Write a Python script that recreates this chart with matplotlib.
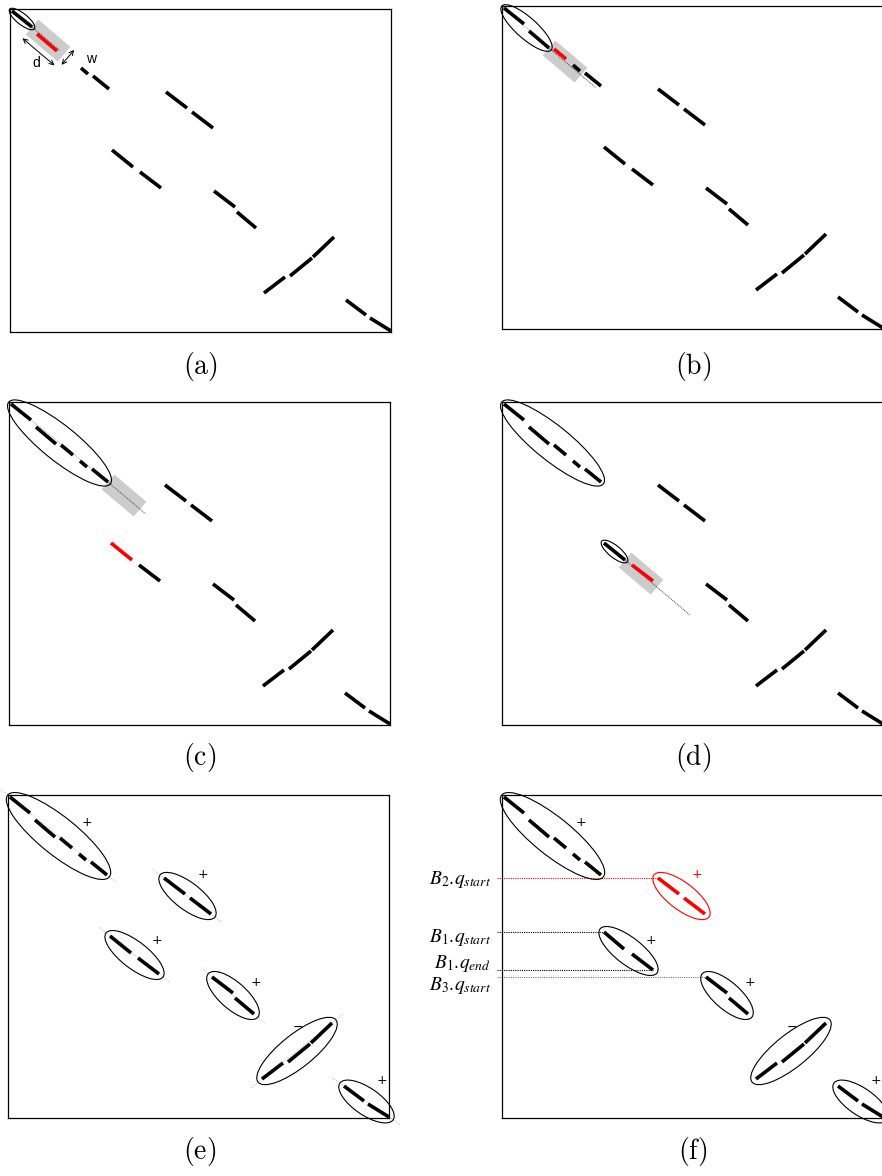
import numpy as np
import matplotlib
matplotlib.use('Agg')
import matplotlib.pyplot as plt
from matplotlib.patches import Ellipse, Polygon

# Segments of each diagonal block, in panel pixels (x0, y0, x1, y1), y grows downward
block_a = [(2, 2, 22, 18), (27, 25, 47, 42), (52, 43, 64, 53), (71, 59, 78, 65), (83, 67, 99, 80)]
block_b = [(156, 83, 177, 99), (182, 103, 203, 119)]
block_c = [(102, 141, 123, 158), (130, 163, 151, 179)]
block_c_f = [(102, 137, 122, 154), (130, 159, 151, 175)]
block_d = [(204, 182, 225, 198), (227, 203, 246, 219)]
block_e = [(254, 284, 275, 268), (280, 267, 302, 249), (303, 248, 324, 228)]
block_f = [(336, 291, 356, 306), (360, 309, 381, 322)]

signs = ['+', '+', '+', '+', '\u2212', '+']
sign_xy = [(79, 27), (195, 80), (149, 146), (248, 188), (290, 232), (374, 285)]

query_labels = [r'$B_2{.}\!q_{start}$', r'$B_1{.}\!q_{start}$',
                r'$B_1{.}\!q_{end}$', r'$B_3{.}\!q_{start}$']
query_label_y = [84, 142, 168, 190]

panel_names = ['(a)', '(b)', '(c)', '(d)', '(e)', '(f)']

W, H = 381, 323
DIAG = np.arctan2(H, W)
U = np.array([np.cos(DIAG), np.sin(DIAG)])
N = np.array([-np.sin(DIAG), np.cos(DIAG)])
SEG_LW = 2.6

fig = plt.figure(figsize=(8.82, 11.76), dpi=100)


def make_ax(left, top):
    ax = fig.add_axes([left / 882, 1 - (top + H) / 1176, W / 882, H / 1176])
    ax.set_xlim(0, W)
    ax.set_ylim(H, 0)
    ax.set_xticks([])
    ax.set_yticks([])
    for s in ax.spines.values():
        s.set_linewidth(0.9)
    return ax


def draw_segs(ax, segs, color='black', skip=()):
    for i, (x0, y0, x1, y1) in enumerate(segs):
        if i in skip:
            continue
        ax.plot([x0, x1], [y0, y1], color=color, lw=SEG_LW,
                solid_capstyle='butt', zorder=3, clip_on=False)


def ring(ax, segs, half_w, pad=4, color='black', tail=False):
    x0, y0 = segs[0][:2]
    x1, y1 = segs[-1][2:]
    cx, cy = (x0 + x1) / 2, (y0 + y1) / 2
    length = np.hypot(x1 - x0, y1 - y0) + 2 * pad
    ang = np.arctan2(y1 - y0, x1 - x0)
    ax.add_patch(Ellipse((cx, cy), length, 2 * half_w, angle=np.degrees(ang),
                         fill=False, ec=color, lw=0.8, zorder=4, clip_on=False))
    if tail:
        r = length / 2 + 9
        ax.plot([cx - r * np.cos(ang), cx + r * np.cos(ang)],
                [cy - r * np.sin(ang), cy + r * np.sin(ang)],
                color='#aaaaaa', lw=0.6, ls=(0, (1, 1.5)), zorder=2, clip_on=False)


def window(ax, start, d=42, w=19.5, dot_len=40):
    s = np.array(start, dtype=float)
    pts = [s + N * w / 2, s + N * w / 2 + U * d, s - N * w / 2 + U * d, s - N * w / 2]
    ax.add_patch(Polygon(pts, closed=True, fc='#cccccc', ec='none', zorder=1))
    e = s + U * dot_len
    ax.plot([s[0], e[0]], [s[1], e[1]], color='#444444', lw=0.7,
            ls=(0, (1, 1)), zorder=2)


def diag_dots(ax, segs):
    ax.plot([0, segs[-1][2]], [0, segs[-1][3]], color='#999999', lw=0.6,
            ls=(0, (1, 1)), zorder=2)


def red_seg(ax, seg):
    ax.plot([seg[0], seg[2]], [seg[1], seg[3]], color='red', lw=SEG_LW,
            solid_capstyle='butt', zorder=3)


others = [block_b, block_c, block_d, block_e, block_f]
arrow_kw = dict(arrowstyle='<->', lw=0.7, mutation_scale=8, shrinkA=0, shrinkB=0)

# (a)
ax = make_ax(10, 9)
draw_segs(ax, block_a, skip=(1, 2))
red_seg(ax, block_a[1])
for b in others:
    draw_segs(ax, b)
ring(ax, block_a[:1], 5.5, pad=3)
window(ax, block_a[0][2:], dot_len=36)
s = np.array(block_a[0][2:], dtype=float)
p0 = s + N * (19.5 / 2 + 5)
ax.annotate('', xy=p0 + U * 42, xytext=p0, arrowprops=arrow_kw)
q = s + U * 47
ax.annotate('', xy=q - N * 9.75, xytext=q + N * 9.75, arrowprops=arrow_kw)
ax.text(26, 54, 'd', ha='center', va='center', fontsize=10, family='Liberation Sans')
ax.text(81, 50, 'w', ha='center', va='center', fontsize=10, family='Liberation Sans')

# (b)
ax = make_ax(502, 6)
draw_segs(ax, block_a, skip=(2,))
red_seg(ax, block_a[2])
for b in others:
    draw_segs(ax, b)
ring(ax, block_a[:2], 10.5, pad=3)
diag_dots(ax, block_a[:2])
window(ax, block_a[1][2:], dot_len=61)

# (c)
ax = make_ax(9, 402)
draw_segs(ax, block_a)
draw_segs(ax, block_b)
draw_segs(ax, block_c, skip=(0,))
red_seg(ax, block_c[0])
for b in [block_d, block_e, block_f]:
    draw_segs(ax, b)
ring(ax, block_a, 17.5, pad=3)
diag_dots(ax, block_a)
window(ax, block_a[-1][2:], dot_len=49)

# (d)
ax = make_ax(502, 402)
draw_segs(ax, block_a)
draw_segs(ax, block_b)
draw_segs(ax, block_c, skip=(1,))
red_seg(ax, block_c[1])
for b in [block_d, block_e, block_f]:
    draw_segs(ax, b)
ring(ax, block_a, 17.5, pad=3)
ring(ax, block_c[:1], 6, pad=3)
window(ax, block_c[0][2:], dot_len=85)

# (e)
ax = make_ax(8, 795)
blocks_e = [block_a, block_b, block_c, block_d, block_e, block_f]
widths = [19, 13.5, 13.5, 13.5, 16.5, 13.5]
for b, hw, sg, xy in zip(blocks_e, widths, signs, sign_xy):
    draw_segs(ax, b)
    ring(ax, b, hw, pad=3 if b is block_a else 5, tail=True)
    ax.text(xy[0], xy[1], sg, ha='center', va='center', fontsize=9)

# (f)
ax = make_ax(502, 795)
blocks_f = [block_a, block_b, block_c_f, block_d, block_e, block_f]
for i, (b, hw, sg, xy) in enumerate(zip(blocks_f, widths, signs, sign_xy)):
    col = 'red' if i == 1 else 'black'
    draw_segs(ax, b, color=col)
    ring(ax, b, hw, pad=3 if i == 0 else 5, color=col)
    ax.text(xy[0], xy[1], sg, ha='center', va='center', fontsize=9, color=col)

guides = [(block_b[0][1], block_b[0][0], 'red'),
          (block_c_f[0][1], block_c_f[0][0], 'black'),
          (block_c_f[-1][3], block_c_f[-1][2], 'black'),
          (block_d[0][1], block_d[0][0], '#777777')]
for (gy, gx, col) in guides:
    ax.plot([-5, gx], [gy, gy], color=col, lw=0.8, ls=(0, (1, 1)),
            zorder=2, clip_on=False)
for lab, ly in zip(query_labels, query_label_y):
    ax.text(-11, ly, lab, ha='right', va='center', fontsize=14,
            math_fontfamily='stix', clip_on=False)

# panel captions
cap_xy = [(200, 366), (693, 366), (200, 758), (693, 758), (200, 1152), (693, 1152)]
for name, (x, y) in zip(panel_names, cap_xy):
    fig.text(x / 882, 1 - y / 1176, r'$\mathrm{' + name + '}$', ha='center',
             va='center', fontsize=20, math_fontfamily='cm')

fig.savefig('out.png', dpi=100)
